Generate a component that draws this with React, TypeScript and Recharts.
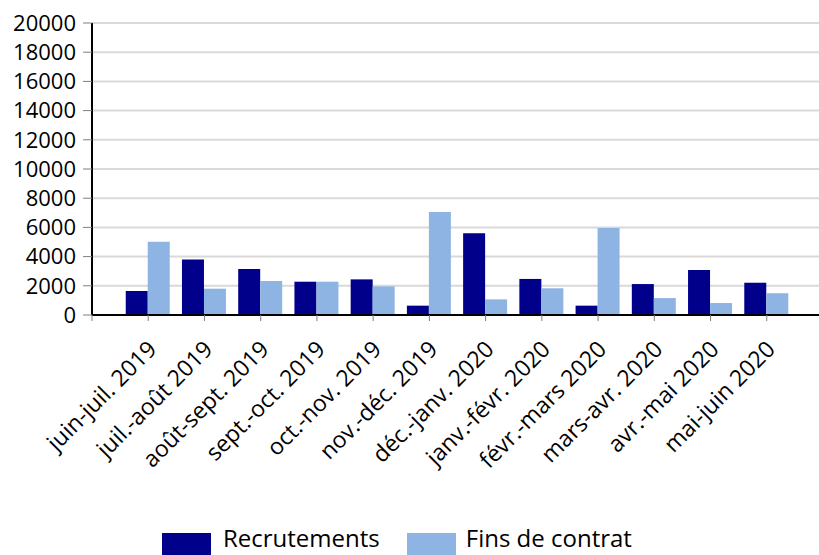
import { BarChart, Bar, XAxis, YAxis, CartesianGrid, Legend } from "recharts"

const periods = [
  "juin-juil. 2019",
  "juil.-août 2019",
  "août-sept. 2019",
  "sept.-oct. 2019",
  "oct.-nov. 2019",
  "nov.-déc. 2019",
  "déc.-janv. 2020",
  "janv.-févr. 2020",
  "févr.-mars 2020",
  "mars-avr. 2020",
  "avr.-mai 2020",
  "mai-juin 2020",
]
const recrutements = [1650, 3800, 3150, 2280, 2440, 640, 5600, 2470, 640, 2120, 3080, 2210]
const finsDeContrat = [5020, 1800, 2330, 2280, 1960, 7050, 1070, 1830, 5960, 1160, 820, 1490]
const yTicks = [0, 2000, 4000, 6000, 8000, 10000, 12000, 14000, 16000, 18000, 20000]

const DARK = "#00008b"
const LIGHT = "#8eb4e3"
const FONT = "'Open Sans', sans-serif"

// numeric x so the first slot (0) stays empty like the original
const data = periods.map((p, i) => ({
  x: i + 1,
  label: p,
  recrutements: recrutements[i],
  fins: finsDeContrat[i],
}))
const xTicks = [0, ...data.map(d => d.x)]

const XTick = (props: any) => {
  const { x, y, payload } = props
  const label = payload.value > 0 ? periods[payload.value - 1] : ""
  return (
    <g transform={`translate(${x + 4},${y + 22})`}>
      <text
        x={0}
        y={0}
        dy="0.35em"
        textAnchor="end"
        transform="rotate(-45)"
        fill="#000"
        fontSize={23}
        fontFamily={FONT}
      >
        {label}
      </text>
    </g>
  )
}

const LegendContent = () => (
  <div
    style={{
      height: 30,
      display: "flex",
      alignItems: "flex-start",
      paddingLeft: 162,
      paddingTop: 3,
      fontFamily: FONT,
      fontSize: 24,
      color: "#000",
      boxSizing: "border-box",
    }}
  >
    <span style={{ display: "inline-block", width: 49, height: 24, background: DARK, marginRight: 12 }} />
    <span style={{ lineHeight: "22px", marginTop: -6, marginRight: 27 }}>Recrutements</span>
    <span style={{ display: "inline-block", width: 49, height: 24, background: LIGHT, marginRight: 10 }} />
    <span style={{ lineHeight: "22px", marginTop: -6 }}>Fins de contrat</span>
  </div>
)

export default function App() {
  return (
    <div style={{ position: "fixed", left: 0, top: 0, width: 819, height: 555, overflow: "hidden", background: "#fff" }}>
      <BarChart
        width={823}
        height={560}
        data={data}
        margin={{ top: 23, right: 0, left: 0, bottom: 0 }}
        barGap={0}
        barCategoryGap="10%"
      >
        <CartesianGrid vertical={false} stroke="#d9d9d9" strokeWidth={2} />
        <XAxis
          dataKey="x"
          type="number"
          domain={[0, 13]}
          ticks={xTicks}
          interval={0}
          height={215}
          tick={<XTick />}
          tickSize={6}
          tickLine={{ stroke: "#7f7f7f" }}
          axisLine={{ stroke: "#000", strokeWidth: 2 }}
        />
        <YAxis
          domain={[0, 20000]}
          ticks={yTicks}
          interval={0}
          width={92}
          tickSize={9}
          tickMargin={7}
          tick={{ fill: "#000", fontSize: 22, fontFamily: FONT }}
          tickLine={{ stroke: "#7f7f7f" }}
          axisLine={{ stroke: "#000", strokeWidth: 2 }}
        />
        <Legend verticalAlign="bottom" content={<LegendContent />} />
        <Bar dataKey="recrutements" name="Recrutements" fill={DARK} isAnimationActive={false} />
        <Bar dataKey="fins" name="Fins de contrat" fill={LIGHT} isAnimationActive={false} />
      </BarChart>
    </div>
  )
}
